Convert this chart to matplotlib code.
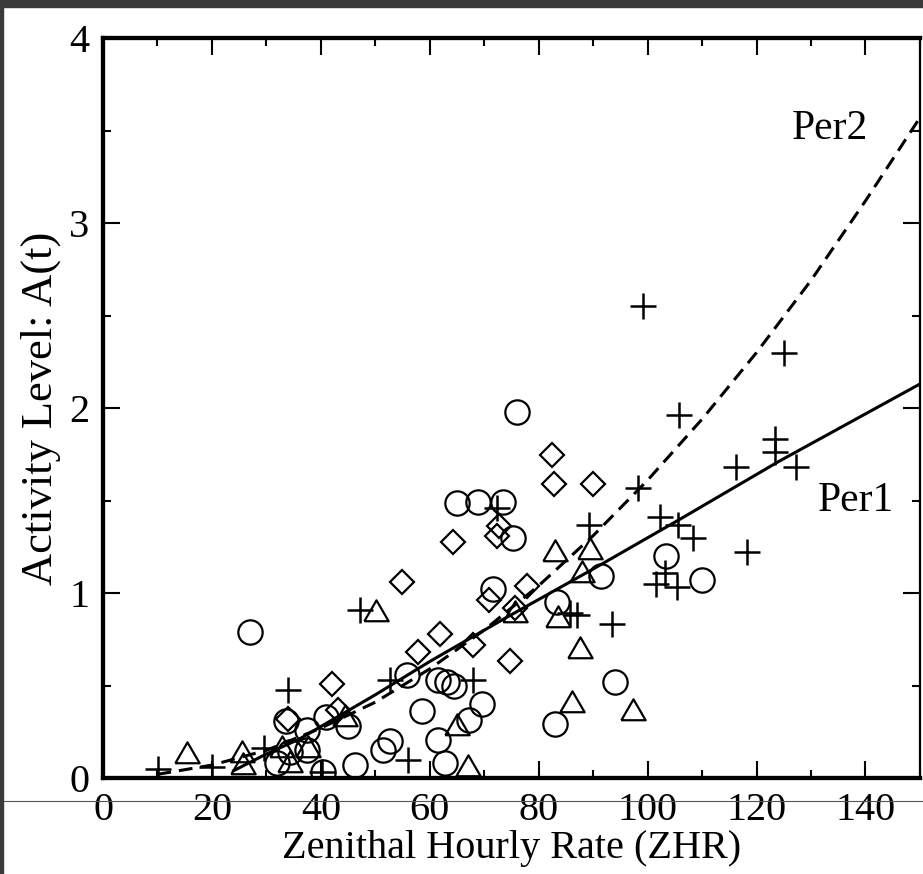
import matplotlib
matplotlib.use("Agg")
import matplotlib.pyplot as plt
from matplotlib.patches import Rectangle
from matplotlib.lines import Line2D
from matplotlib.ticker import MultipleLocator

plt.rcParams['font.family'] = ['Liberation Serif', 'DejaVu Serif']

# --- data ---
plus_x = [10.1, 20.0, 29.5, 33.9, 40.3, 47.2, 52.7, 56.0, 67.9, 72.3, 85.7, 87.0,
          89.2, 93.5, 98.2, 99.1, 101.5, 102.2, 103.1, 105.3, 105.5, 105.7, 108.3,
          116.3, 118.2, 123.3, 123.3, 125.0, 127.3]
plus_y = [0.05, 0.06, 0.16, 0.475, 0.03, 0.91, 0.53, 0.10, 0.53, 1.46, 0.89, 0.88,
          1.37, 0.83, 1.57, 2.55, 1.05, 1.41, 1.11, 1.03, 1.37, 1.96, 1.30,
          1.68, 1.22, 1.83, 1.76, 2.30, 1.68]

circ_x = [27.0, 33.6, 37.5, 41.0, 45.0, 40.4, 34.3, 37.4, 31.9, 46.2, 51.4, 52.7,
          55.8, 58.5, 61.5, 63.1, 64.4, 61.5, 62.8, 67.2, 69.5, 71.6, 65.0, 68.8,
          73.4, 75.2, 76.1, 83.3, 82.9, 91.4, 94.0, 103.4, 109.9]
circ_y = [0.79, 0.31, 0.26, 0.33, 0.28, 0.03, 0.14, 0.15, 0.08, 0.07, 0.15, 0.20,
          0.555, 0.36, 0.53, 0.52, 0.50, 0.205, 0.08, 0.315, 0.40, 1.02, 1.485, 1.49,
          1.49, 1.30, 1.98, 0.95, 0.29, 1.09, 0.52, 1.20, 1.07]

diam_x = [33.9, 42.1, 43.1, 54.9, 57.8, 61.8, 64.2, 67.9, 70.8, 72.8, 72.3, 74.7,
          75.7, 77.8, 82.4, 82.8, 89.9]
diam_y = [0.32, 0.51, 0.37, 1.06, 0.68, 0.78, 1.275, 0.72, 0.96, 1.36, 1.31, 0.63,
          0.92, 1.04, 1.745, 1.59, 1.59]

tri_x = [15.4, 25.5, 25.7, 32.8, 37.6, 34.3, 44.4, 50.1, 65.0, 67.0, 75.6, 82.9,
         83.5, 86.1, 87.5, 87.9, 89.4, 97.3]
tri_y = [0.13, 0.135, 0.07, 0.16, 0.165, 0.08, 0.33, 0.90, 0.28, 0.06, 0.89, 1.22,
         0.865, 0.405, 0.70, 1.11, 1.23, 0.36]

# model curves, points
per1_x = [24, 30, 36, 50, 60, 73, 90, 106, 124, 150]
per1_y = [0.04, 0.13, 0.21, 0.45, 0.63, 0.85, 1.13, 1.40, 1.71, 2.13]
per2_x = [10, 20, 30, 40, 50, 60, 70, 80, 90, 100, 110, 120, 130, 140, 150]
per2_y = [0.02, 0.07, 0.15, 0.27, 0.41, 0.59, 0.80, 1.04, 1.31, 1.61, 1.94, 2.30,
          2.69, 3.12, 3.57]

fig = plt.figure(figsize=(9.23, 8.74), dpi=100)
ax = fig.add_axes([0.1116, 0.1098, 0.9967 - 0.1116, 0.9565 - 0.1098])

ax.plot(per1_x, per1_y, color='black', lw=2.2, zorder=2)
ax.plot(per2_x, per2_y, color='black', lw=2.2, linestyle=(0, (4.5, 2.6)), zorder=2)

tri = [(-1, -0.72), (1, -0.72), (0, 1.0), (-1, -0.72)]
mk = dict(linestyle='none', color='black', markerfacecolor='none', markeredgewidth=1.6, zorder=3)
ax.plot(circ_x, circ_y, marker='o', markersize=17.5, **mk)
ax.plot(diam_x, diam_y, marker='D', markersize=12.7, **mk)
ax.plot(tri_x, tri_y, marker=tri, markersize=17.5, **mk)
mk['markeredgewidth'] = 1.8
ax.plot(plus_x, plus_y, marker='+', markersize=18.5, **mk)

ax.text(133.4, 3.51, 'Per2', fontsize=30, ha='center', va='center')
ax.text(138.2, 1.50, 'Per1', fontsize=30, ha='center', va='center')

ax.set_xlim(0, 150)
ax.set_ylim(0, 4)
ax.xaxis.set_major_locator(MultipleLocator(20))
ax.xaxis.set_minor_locator(MultipleLocator(10))
ax.yaxis.set_major_locator(MultipleLocator(1))
ax.yaxis.set_minor_locator(MultipleLocator(0.5))
ax.tick_params(which='both', direction='in', top=True, right=True, width=1.5, labelsize=29)
ax.tick_params(which='major', length=12, pad=10)
ax.tick_params(which='minor', length=6)
for s in ax.spines.values():
    s.set_linewidth(3.1)
ax.spines['right'].set_linewidth(1.6)

ax.set_xlabel('Zenithal Hourly Rate (ZHR)', fontsize=29, labelpad=1)
ax.set_ylabel('Activity Level: A(t)', fontsize=32, labelpad=6)

# screenshot frame: dark bands and the thin rule across the tick labels
fig.patches.append(Rectangle((0, 1 - 7 / 874), 1, 7 / 874, transform=fig.transFigure,
                             color='#3a3a3a', zorder=10))
fig.patches.append(Rectangle((0, 0), 3 / 923, 1, transform=fig.transFigure,
                             color='#3a3a3a', zorder=10))
fig.lines.append(Line2D([3 / 923, 1], [73 / 874, 73 / 874], transform=fig.transFigure,
                        color='#555555', lw=0.8, zorder=0))

fig.savefig('out.png', dpi=100)
